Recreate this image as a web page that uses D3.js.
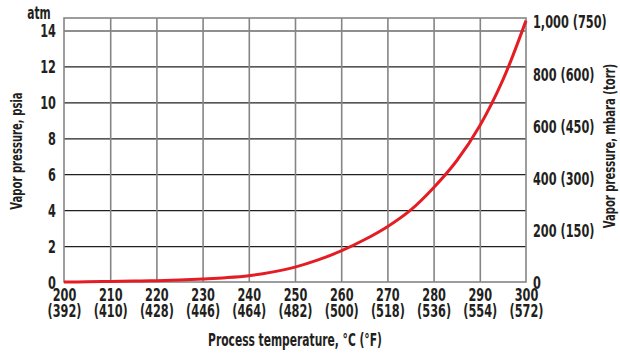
<!DOCTYPE html>
<html>
<head>
<meta charset="utf-8">
<script src="https://cdn.jsdelivr.net/npm/d3@7"></script>
<style>
  body { margin: 0; background: #fff; }
  svg text { font-family: "DejaVu Sans Condensed", "DejaVu Sans", sans-serif; font-stretch: condensed; font-weight: bold; fill: #231f20; }
</style>
</head>
<body>
<div id="chart"></div>
<script>
// data: temperature in degC, vapor pressure in psia
const tempC = [200, 205, 210, 215, 220, 225, 230, 235, 240, 245, 250, 255, 260, 265, 270, 275, 280, 285, 290, 295, 300];
const psia  = [0.0, 0.01, 0.03, 0.05, 0.07, 0.11, 0.17, 0.24, 0.35, 0.55, 0.83, 1.23, 1.73, 2.35, 3.08, 4.0, 5.25, 6.75, 8.7, 11.25, 14.55];
const xTicks = [200, 210, 220, 230, 240, 250, 260, 270, 280, 290, 300];
const xTicksF = ["(392)", "(410)", "(428)", "(446)", "(464)", "(482)", "(500)", "(518)", "(536)", "(554)", "(572)"];
const yTicks = [0, 2, 4, 6, 8, 10, 12, 14];
const rTicks = [0, 200, 400, 600, 800, 1000];
const rTickLabels = ["0", "200 (150)", "400 (300)", "600 (450)", "800 (600)", "1,000 (750)"];

const W = 620, H = 354;
const m = {top: 18, right: 94, bottom: 72, left: 64};
const w = W - m.left - m.right;
const h = H - m.top - m.bottom;
const psiPerMbar = 14.5038 / 1000;
const sx = 0.7; // squeeze text to look like a condensed face

const svg = d3.select("#chart")
    .append("svg")
        .attr("width", W)
        .attr("height", H);
const g = svg.append("g")
    .attr("transform", "translate(" + m.left + "," + m.top + ")");

function squeeze(sel) {
    sel.each(function() {
        const t = d3.select(this);
        t.attr("x", (+t.attr("x") || 0) / sx)
         .attr("transform", "scale(" + sx + ",1)");
    });
}

const x = d3.scaleLinear().domain([200, 300]).range([0, w]);
// top of plot = 1 atm
const y = d3.scaleLinear().domain([0, 14.696]).range([h, 0]);
const yR = d3.scaleLinear().domain([0, 14.696 / psiPerMbar]).range([h, 0]);

// horizontal grid (black)
g.append("g")
    .call(d3.axisLeft(y).tickValues(yTicks.slice(1)).tickSize(-w).tickFormat(""))
    .call(a => a.select(".domain").remove())
    .selectAll("line")
        .attr("stroke", "#231f20")
        .attr("stroke-width", 1.2);

// vertical grid (gray)
g.append("g")
    .attr("transform", "translate(0," + h + ")")
    .call(d3.axisBottom(x).tickValues(xTicks.slice(1, -1)).tickSize(-h).tickFormat(""))
    .call(a => a.select(".domain").remove())
    .selectAll("line")
        .attr("stroke", "#858585")
        .attr("stroke-width", 1.6);

// frame
g.append("rect")
    .attr("x", 0).attr("y", 0)
    .attr("width", w).attr("height", h)
    .attr("fill", "none")
    .attr("stroke", "#858585")
    .attr("stroke-width", 1.6);

// left axis labels
const yAx = g.append("g")
    .call(d3.axisLeft(y).tickValues(yTicks).tickSize(0).tickPadding(8));
yAx.select(".domain").remove();
yAx.selectAll("text")
    .style("font-size", "18px")
    .attr("dy", "0.36em")
    .call(squeeze);

// right axis labels
const rAx = g.append("g")
    .attr("transform", "translate(" + w + ",0)")
    .call(d3.axisRight(yR).tickValues(rTicks).tickSize(0).tickPadding(7)
        .tickFormat((d, i) => rTickLabels[i]));
rAx.select(".domain").remove();
rAx.selectAll("text")
    .style("font-size", "18px")
    .attr("dy", "0.36em")
    .call(squeeze);

// bottom axis labels, two lines
const xAx = g.append("g")
    .attr("transform", "translate(0," + h + ")")
    .call(d3.axisBottom(x).tickValues(xTicks).tickSize(0));
xAx.select(".domain").remove();
xAx.selectAll("text").remove();
xAx.selectAll(".tick").append("text")
    .attr("text-anchor", "middle")
    .attr("y", 19)
    .style("font-size", "18px")
    .text(d => d)
    .call(squeeze);
xAx.selectAll(".tick").append("text")
    .attr("text-anchor", "middle")
    .attr("y", 35)
    .style("font-size", "18px")
    .text((d, i) => xTicksF[i])
    .call(squeeze);

// curve
const line = d3.line()
    .x((d, i) => x(tempC[i]))
    .y(d => y(d))
    .curve(d3.curveCatmullRom);
g.append("path")
    .datum(psia)
    .attr("fill", "none")
    .attr("stroke", "#e41d25")
    .attr("stroke-width", 3)
    .attr("d", line);

// titles
svg.append("text")
    .attr("transform", "translate(39,19) scale(" + sx + ",1)")
    .attr("text-anchor", "middle")
    .style("font-size", "17px")
    .text("atm");
svg.append("text")
    .attr("transform", "translate(22,151) rotate(-90) scale(" + sx + ",1)")
    .attr("text-anchor", "middle")
    .style("font-size", "16px")
    .text("Vapor pressure, psia");
svg.append("text")
    .attr("transform", "translate(615,146) rotate(-90) scale(" + sx + ",1)")
    .attr("text-anchor", "middle")
    .style("font-size", "16px")
    .text("Vapor pressure, mbara (torr)");
svg.append("text")
    .attr("transform", "translate(295,346) scale(" + sx + ",1)")
    .attr("text-anchor", "middle")
    .style("font-size", "17px")
    .text("Process temperature, °C (°F)");
</script>
</body>
</html>
